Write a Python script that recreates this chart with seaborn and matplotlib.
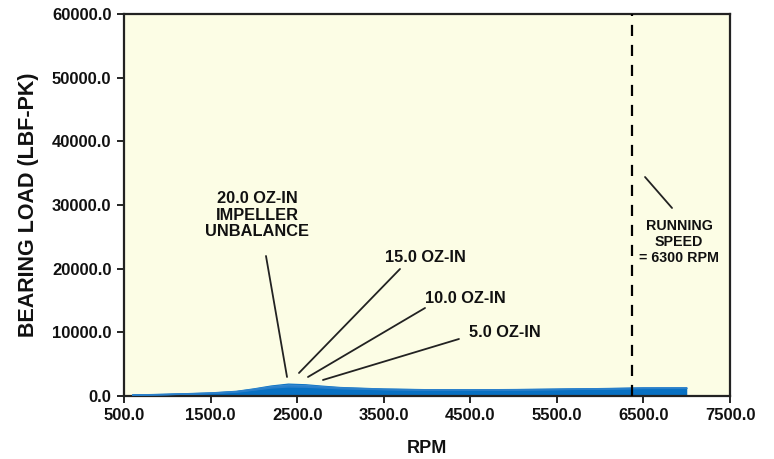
import numpy as np
import pandas as pd
import matplotlib
matplotlib.use("Agg")
import matplotlib.pyplot as plt
import seaborn as sns

rpm = [600, 1000, 1500, 1800, 2000, 2200, 2400, 2600, 2800, 3000, 3500, 4000,
       4500, 5000, 5500, 6000, 6500, 7000]
load_20 = [150, 260, 470, 720, 1100, 1550, 1850, 1750, 1520, 1320, 1080, 980,
           960, 1000, 1060, 1150, 1250, 1260]
load_15 = [140, 240, 440, 680, 1040, 1450, 1700, 1630, 1430, 1260, 1050, 960,
           940, 980, 1040, 1120, 1220, 1230]
load_10 = [130, 225, 410, 640, 980, 1350, 1560, 1500, 1350, 1200, 1020, 940,
           920, 960, 1020, 1100, 1200, 1210]
load_5 = [120, 210, 380, 600, 920, 1250, 1420, 1380, 1260, 1140, 990, 920,
          900, 940, 1000, 1080, 1180, 1190]

running_speed = 6370
x_ticks = [500, 1500, 2500, 3500, 4500, 5500, 6500, 7500]
y_ticks = [0, 10000, 20000, 30000, 40000, 50000, 60000]

df = pd.DataFrame({"RPM": rpm * 4,
                   "LOAD": load_20 + load_15 + load_10 + load_5,
                   "SERIES": (["20.0"] * len(rpm) + ["15.0"] * len(rpm)
                              + ["10.0"] * len(rpm) + ["5.0"] * len(rpm))})

sns.set_theme(style="white")
plt.rcParams["font.family"] = ["Liberation Sans", "DejaVu Sans"]
plt.rcParams["font.weight"] = "bold"

fig = plt.figure(figsize=(7.74, 4.59), dpi=100)
ax = fig.add_axes([0.1602, 0.1373, 0.9432 - 0.1602, 0.9695 - 0.1373])
ax.set_facecolor("#FCFDE5")

blue = "#0870C2"
ax.fill_between(rpm, 0, load_20, color=blue, lw=0, zorder=2)
sns.lineplot(data=df, x="RPM", y="LOAD", hue="SERIES",
             palette={"20.0": blue, "15.0": "#3A8AD0", "10.0": "#2F83CC", "5.0": "#2A7FCA"},
             linewidth=1.0, legend=False, ax=ax, zorder=3)

ax.axvline(running_speed, color="black", lw=1.6, ls=(0, (5, 4)), zorder=4)

ax.set_xlim(500, 7500)
ax.set_ylim(0, 60000)
ax.set_xticks(x_ticks)
ax.set_yticks(y_ticks)
ax.set_xticklabels([f"{v:.1f}" for v in x_ticks], fontsize=12, fontweight="bold")
ax.set_yticklabels([f"{v:.1f}" for v in y_ticks], fontsize=12, fontweight="bold")
ax.tick_params(axis="both", direction="out", length=5, width=1.2, color="black",
               labelcolor="#111111", bottom=True, left=True, pad=4)
for s in ax.spines.values():
    s.set_color("#222222")
    s.set_linewidth(1.6)

ax.set_xlabel("RPM", fontsize=13, fontweight="bold", labelpad=12, color="#111111")
ax.set_ylabel("BEARING LOAD (LBF-PK)", fontsize=15.5, fontweight="bold", labelpad=9,
              color="#111111")

ann_kw = dict(fontsize=11.8, fontweight="bold", ha="center", va="center",
              color="#111111", linespacing=1.12, zorder=5)
ax.text(2036, 28400, "20.0 OZ-IN\nIMPELLER\nUNBALANCE", **ann_kw)
ax.plot([2140, 2383], [21990, 2984], color="#222222", lw=1.3, zorder=5)
ax.text(3977, 21830, "15.0 OZ-IN", **ann_kw)
ax.plot([3688, 2521], [19948, 3613], color="#222222", lw=1.3, zorder=5)
ax.text(4439, 15390, "10.0 OZ-IN", **ann_kw)
ax.plot([3977, 2625], [13822, 2984], color="#222222", lw=1.3, zorder=5)
ax.text(4901, 9895, "5.0 OZ-IN", **ann_kw)
ax.plot([4369, 2798], [8953, 2513], color="#222222", lw=1.3, zorder=5)
ax.text(6910, 24200, "RUNNING\nSPEED\n= 6300 RPM", fontsize=10.3, fontweight="bold",
        ha="center", va="center", color="#111111", linespacing=1.15, zorder=5)
ax.plot([6518, 6830], [34398, 29529], color="#222222", lw=1.3, zorder=5)

fig.savefig("out.png", dpi=100, facecolor="white")
